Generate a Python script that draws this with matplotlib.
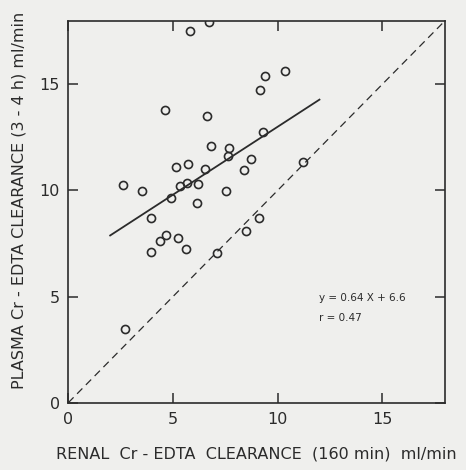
import matplotlib
matplotlib.use("Agg")
import matplotlib.pyplot as plt
import numpy as np

# Renal (x) vs plasma (y) Cr-EDTA clearance, ml/min
renal = [6.72, 5.81, 4.60, 6.65, 6.83, 7.66, 7.61, 5.14, 5.70, 6.53,
         2.63, 3.52, 5.33, 5.65, 6.22, 4.89, 6.16, 7.53, 3.93, 3.93,
         4.38, 4.68, 5.22, 5.62, 7.11, 2.72, 10.34, 9.39, 9.14, 9.31,
         8.71, 8.39, 11.22, 9.12, 8.48]
plasma = [17.92, 17.52, 13.79, 13.49, 12.08, 12.00, 11.64, 11.10, 11.26, 11.02,
          10.27, 9.97, 10.19, 10.36, 10.30, 9.66, 9.39, 9.99, 8.68, 7.09,
          7.63, 7.92, 7.75, 7.26, 7.06, 3.48, 15.65, 15.38, 14.75, 12.77,
          11.48, 10.98, 11.34, 8.68, 8.10]

slope, intercept = 0.64, 6.6
fit_range = [2.0, 12.0]
ticks = [0, 5, 10, 15]

ink = "#2b2b2b"
paper = "#efefed"

fig = plt.figure(figsize=(4.66, 4.70), dpi=100, facecolor=paper)
ax = fig.add_axes([0.1466, 0.1432, 0.8084, 0.8128], facecolor=paper)

# line of identity
ax.plot([0, 18], [0, 18], color=ink, lw=0.9, ls=(0, (6, 4)), zorder=1)
# regression line
fx = np.array(fit_range)
ax.plot(fx, slope * fx + intercept, color=ink, lw=1.3, zorder=2)
# data points
ax.plot(renal, plasma, ls="none", marker="o", ms=5.8, mfc="none",
        mec=ink, mew=1.2, zorder=3)

ax.set_xlim(0, 18)
ax.set_ylim(0, 18)
ax.set_xticks(ticks)
ax.set_yticks(ticks)
ax.tick_params(direction="in", length=7, width=1.1, colors=ink,
               labelsize=11.5, top=True, right=True, pad=6)
ax.tick_params(axis="x", pad=7)
for s in ax.spines.values():
    s.set_linewidth(1.2)
    s.set_color(ink)

ax.text(12.0, 4.81, "y = 0.64 X + 6.6", fontsize=7.5, color=ink)
ax.text(12.0, 3.87, "r = 0.47", fontsize=7.5, color=ink)

ax.set_xlabel("RENAL  Cr - EDTA  CLEARANCE  (160 min)  ml/min",
              fontsize=11.5, color=ink, labelpad=14)
ax.set_ylabel("PLASMA Cr - EDTA CLEARANCE (3 - 4 h) ml/min",
              fontsize=11.5, color=ink)
ax.yaxis.set_label_coords(-0.11, 0.53)

fig.savefig("out.png", dpi=100, facecolor=paper)
